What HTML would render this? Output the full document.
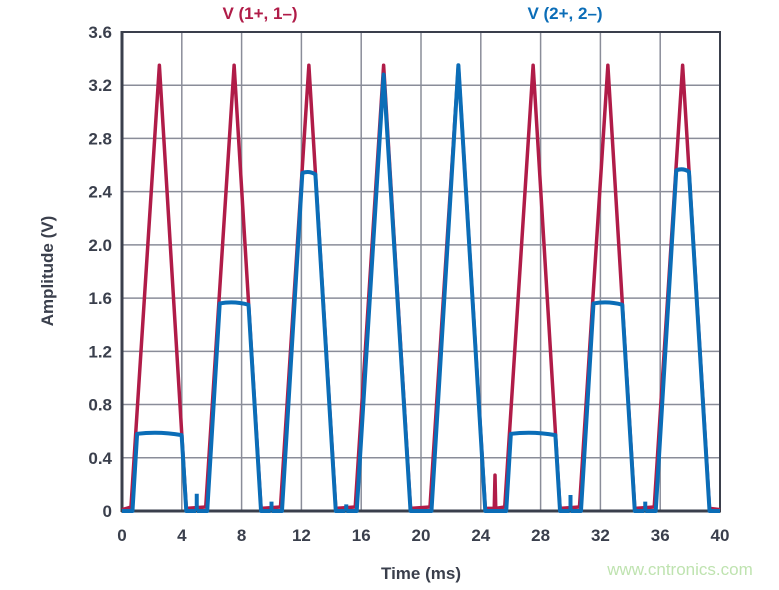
<!DOCTYPE html>
<html><head><meta charset="utf-8"><style>
body{margin:0;background:#fff;}
svg text{font-family:"Liberation Sans",sans-serif;font-weight:bold;}
</style></head><body>
<svg id="s" width="779" height="585" xmlns="http://www.w3.org/2000/svg">
<rect width="779" height="585" fill="#fff"/>
<g id="grid" stroke="#8a8d99" stroke-width="1.5"></g>
<rect x="122" y="32" width="598" height="479" fill="none" stroke="#3a3f4c" stroke-width="2"/>
<line x1="121" y1="511" x2="721" y2="511" stroke="#3a3f4c" stroke-width="3"/>
<line x1="122" y1="31" x2="122" y2="512" stroke="#3a3f4c" stroke-width="3"/>
<g id="yt" fill="#3a3f4c" font-size="17" text-anchor="end"></g>
<g id="xt" fill="#3a3f4c" font-size="17" text-anchor="middle"></g>
<path id="red" fill="none" stroke="#b01c48" stroke-width="3.5" stroke-linejoin="round"/>
<path id="blue" fill="none" stroke="#0b6db7" stroke-width="4" stroke-linejoin="round"/>
<text x="260" y="19" fill="#b01c48" font-size="17" text-anchor="middle">V (1+, 1–)</text>
<text x="565" y="19" fill="#0b6db7" font-size="17" text-anchor="middle">V (2+, 2–)</text>
<text x="421" y="579" fill="#3a3f4c" font-size="17" text-anchor="middle">Time (ms)</text>
<text transform="translate(53,271) rotate(-90)" fill="#3a3f4c" font-size="17" text-anchor="middle">Amplitude (V)</text>
<text x="680" y="575" fill="#bfe3b0" font-size="17" text-anchor="middle" style="font-weight:normal">www.cntronics.com</text>
</svg>
<script>
var X=t=>122+t*14.95, Y=v=>511-v*133.06;
var g=document.getElementById('grid'),yt=document.getElementById('yt'),xt=document.getElementById('xt');
var h='',y='',x='';
for(var i=1;i<9;i++){h+='<line x1="122" x2="720" y1="'+Y(i*0.4)+'" y2="'+Y(i*0.4)+'"/>';}
for(var i=1;i<10;i++){h+='<line y1="32" y2="511" x1="'+X(i*4)+'" x2="'+X(i*4)+'"/>';}
g.innerHTML=h;
var yl=['0','0.4','0.8','1.2','1.6','2.0','2.4','2.8','3.2','3.6'];
for(var i=0;i<10;i++){y+='<text x="112" y="'+(Y(i*0.4)+6)+'">'+yl[i]+'</text>';}
yt.innerHTML=y;
for(var i=0;i<11;i++){x+='<text x="'+X(i*4)+'" y="541">'+(i*4)+'</text>';}
xt.innerHTML=x;
var P=3.35,S=1.86,H=1.8;
var r='M'+X(0)+','+Y(0.01);
for(var k=0;k<8;k++){var c=2.5+5*k;
 if(k==5){r+=' L'+X(24.9)+','+Y(0.02)+' L'+X(24.95)+','+Y(0.27)+' L'+X(25.0)+','+Y(0.02);}
 r+=' L'+X(c-H-0.1)+','+Y(0.03)+' L'+X(c)+','+Y(P)+' L'+X(c+H)+','+Y(0.02);}
r+=' L'+X(40)+','+Y(0.01);
document.getElementById('red').setAttribute('d',r);
var A=[0.58,1.56,2.54,3.28,3.35,0.58,1.56,2.56];
var sp={0:0.13,1:0.07,2:0.05,5:0.12,6:0.07};
var b='M'+X(0)+','+Y(0)+' L'+X(0.7)+','+Y(0);
for(var k=0;k<8;k++){var c=2.5+5*k,a=A[k];
 var w=(P-a)/S;
 b+=' L'+X(c-H)+','+Y(0);
 if(w<0.05){b+=' L'+X(c)+','+Y(a);}
 else{b+=' L'+X(c-w)+','+Y(a)+' Q'+X(c)+','+Y(a+0.02)+' '+X(c+w)+','+Y(a-0.01);}
 b+=' L'+X(c+H)+','+Y(0);
 if(sp[k]){var s=c+2.5;b+=' L'+X(s-0.05)+','+Y(0)+' M'+X(s)+','+Y(0)+' L'+X(s)+','+Y(sp[k])+' M'+X(s)+','+Y(0)+' L'+X(s+0.05)+','+Y(0);}
}
b+=' L'+X(40)+','+Y(0);
document.getElementById('blue').setAttribute('d',b);
</script>
</body></html>
